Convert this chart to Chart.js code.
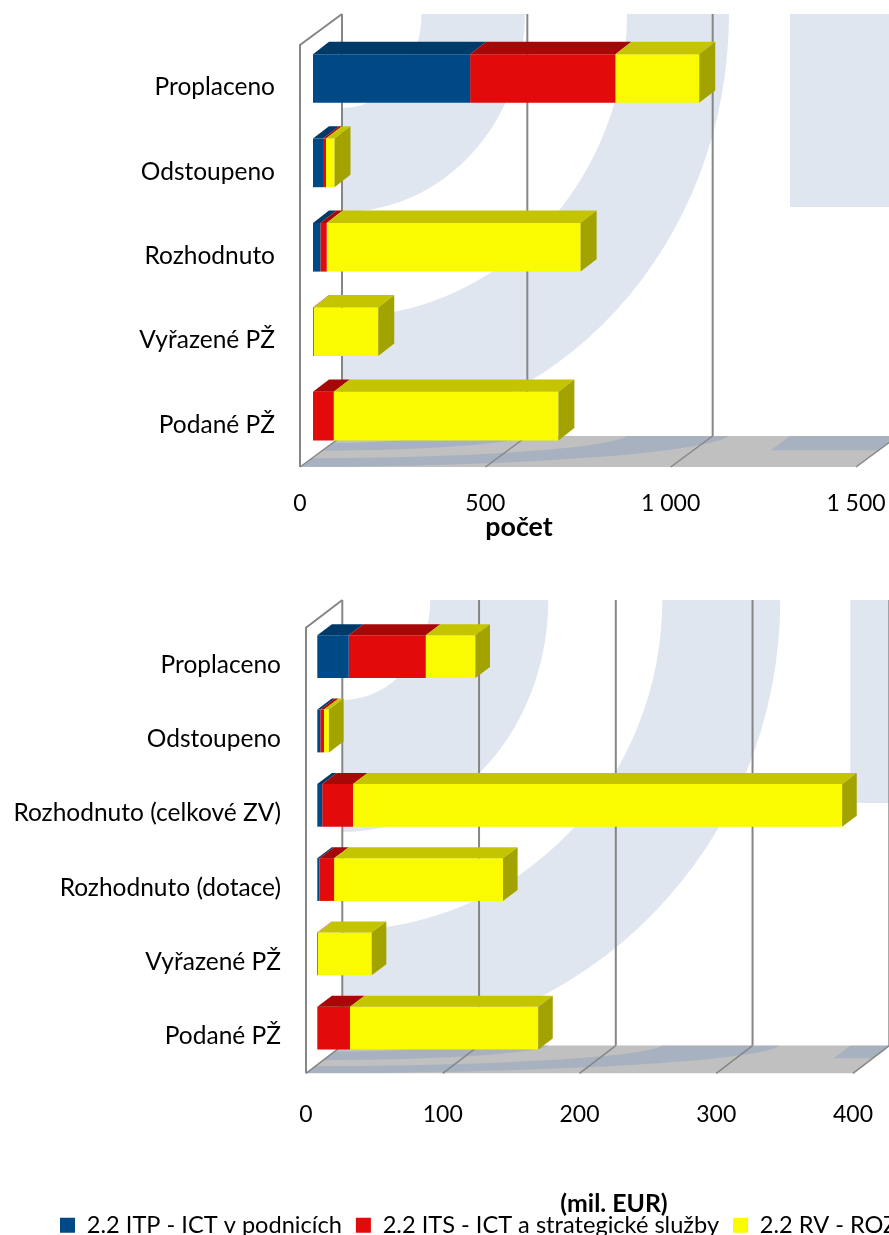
<!DOCTYPE html>
<html>
<head>
<meta charset="utf-8">
<title>Graf</title>
<script src="https://cdn.jsdelivr.net/npm/chart.js@4"></script>
<style>
  html, body { margin:0; padding:0; width:889px; height:1235px; overflow:hidden; background:#fff; }
  canvas { position:absolute; left:0; }
  #chartCount { top:0; }
  #chartEur { top:580px; }
</style>
</head>
<body>
<canvas id="chartCount" width="1300" height="560"></canvas>
<canvas id="chartEur" width="1300" height="667"></canvas>
<script>
const seriesNames = ['2.2 ITP - ICT v podnicích', '2.2 ITS - ICT a strategické služby', '2.2 RV - ROZVOJ'];
const frontColors = ['#004987', '#e20a0a', '#fafa00'];
const topColors = ['#003a68', '#a60808', '#c4c400'];
const sideColor = '#a3a300';

const countLabels = ['Proplaceno', 'Odstoupeno', 'Rozhodnuto', 'Vyřazené PŽ', 'Podané PŽ'];
const countItp = [424, 27, 20, 0, 0];
const countIts = [392, 8, 17, 2, 56];
const countRv = [226, 23, 685, 174, 606];

const eurLabels = ['Proplaceno', 'Odstoupeno', 'Rozhodnuto (celkové ZV)', 'Rozhodnuto (dotace)', 'Vyřazené PŽ', 'Podané PŽ'];
const eurItp = [23, 2.2, 3.6, 1.6, 0, 0];
const eurIts = [56.3, 2.7, 22.5, 10.7, 0.5, 23.9];
const eurRv = [36.3, 3.6, 357.7, 123.5, 39.3, 137.6];

const labelFont = { family:'Lato', size:24.5 };
const numberFont = { family:'Lato', size:23 };
const legendFont = { family:'Lato', size:23.6 };
const gridColor = '#868686';

// quarter rings + block of the picture that fills the back wall and floor
function wallPicture(ctx, look, w, h, color) {
  ctx.save();
  ctx.beginPath();
  ctx.rect(0, 0, w, h);
  ctx.clip();
  ctx.fillStyle = color;
  look.rings.forEach(r => {
    ctx.beginPath();
    ctx.moveTo(r[2], 0);
    ctx.ellipse(0, 0, r[2], r[3], 0, 0, Math.PI/2);
    ctx.lineTo(0, r[1]);
    ctx.ellipse(0, 0, r[0], r[1], 0, Math.PI/2, 0, true);
    ctx.closePath();
    ctx.fill();
  });
  ctx.fillRect(look.block[0], 0, w, look.block[1]);
  ctx.restore();
}

function box3d(look) {
  return {
    id: 'box3d',
    afterLayout(chart) {
      // legend starts at 60px, the long category labels need the space left of it
      if (look.legendLeft) chart.legend.left = look.legendLeft;
    },
    beforeDatasetsDraw(chart) {
      const ctx = chart.ctx, x = chart.scales.x, a = chart.chartArea;
      const ox = a.left + look.wall[0], oy = a.top + look.wall[1];
      const h = a.bottom - a.top, w = x.getPixelForValue(x.max) - a.left;

      ctx.save();
      ctx.translate(ox, oy);
      wallPicture(ctx, look, w, h, '#e0e6f0');
      ctx.restore();

      // floor
      ctx.save();
      ctx.fillStyle = '#c0c0c0';
      ctx.beginPath();
      ctx.moveTo(a.left, a.bottom);
      ctx.lineTo(a.left + w, a.bottom);
      ctx.lineTo(ox + w, oy + h);
      ctx.lineTo(ox, oy + h);
      ctx.closePath();
      ctx.fill();
      ctx.transform(1, 0, -look.wall[0]/h, -look.wall[1]/h, ox, oy + h);
      wallPicture(ctx, look, w, h, '#a7b1c0');
      ctx.restore();

      // grid: back wall lines and floor lines from the x ticks
      ctx.save();
      ctx.strokeStyle = gridColor;
      x.ticks.forEach(t => {
        const px = x.getPixelForValue(t.value);
        ctx.lineWidth = 2;
        ctx.beginPath();
        ctx.moveTo(px + look.wall[0], oy);
        ctx.lineTo(px + look.wall[0], oy + h);
        ctx.stroke();
        ctx.lineWidth = 1.5;
        ctx.beginPath();
        ctx.moveTo(px + look.wall[0], oy + h);
        ctx.lineTo(px, a.bottom);
        ctx.stroke();
      });
      ctx.lineWidth = 2;
      ctx.beginPath();
      ctx.moveTo(a.left, a.bottom);
      ctx.lineTo(a.left, a.top);
      ctx.lineTo(ox, oy);
      ctx.stroke();
      ctx.restore();
    },
    beforeDatasetDraw(chart) {
      chart.ctx.save();
      chart.ctx.translate(look.shift[0], look.shift[1]);
    },
    afterDatasetDraw(chart) {
      chart.ctx.restore();
    },
    afterDatasetsDraw(chart) {
      const ctx = chart.ctx, last = chart.data.datasets.length - 1;
      const dx = look.depth[0], dy = look.depth[1];
      ctx.save();
      ctx.translate(look.shift[0], look.shift[1]);
      chart.data.datasets.forEach((ds, i) => {
        chart.getDatasetMeta(i).data.forEach(bar => {
          const top = bar.y - bar.height/2;
          if (bar.x - bar.base > 0) {
            ctx.fillStyle = topColors[i];
            ctx.beginPath();
            ctx.moveTo(bar.base, top);
            ctx.lineTo(bar.x, top);
            ctx.lineTo(bar.x + dx, top + dy);
            ctx.lineTo(bar.base + dx, top + dy);
            ctx.closePath();
            ctx.fill();
          }
          if (i === last) {
            ctx.fillStyle = sideColor;
            ctx.beginPath();
            ctx.moveTo(bar.x, top);
            ctx.lineTo(bar.x + dx, top + dy);
            ctx.lineTo(bar.x + dx, top + dy + bar.height);
            ctx.lineTo(bar.x, top + bar.height);
            ctx.closePath();
            ctx.fill();
          }
        });
      });
      ctx.restore();
    },
    // the unit caption does not sit in the middle of the axis, so no scale title here
    afterDraw(chart) {
      const ctx = chart.ctx;
      ctx.save();
      ctx.fillStyle = '#000';
      ctx.font = 'bold ' + look.caption.size + 'px Lato';
      ctx.textAlign = 'center';
      ctx.textBaseline = 'middle';
      ctx.fillText(look.caption.text, look.caption.x, look.caption.y);
      ctx.restore();
    }
  };
}

function makeChart(id, labels, series, o) {
  return new Chart(document.getElementById(id), {
    type: 'bar',
    data: {
      labels: labels,
      datasets: series.map((vals, i) => ({
        label: seriesNames[i],
        data: vals,
        backgroundColor: frontColors[i],
        borderWidth: 0,
        categoryPercentage: 1,
        barPercentage: 0.576,
        clip: false
      }))
    },
    options: {
      indexAxis: 'y',
      responsive: false,
      animation: false,
      layout: { padding: { top:o.top, left:0, right:0, bottom:0 } },
      plugins: {
        tooltip: { enabled:false },
        legend: {
          display: o.legend,
          position: 'bottom',
          align: 'start',
          labels: { font:legendFont, color:'#000', boxWidth:15, boxHeight:15, padding:14 }
        }
      },
      scales: {
        x: {
          stacked: true,
          min: 0,
          max: o.max,
          grid: { display:false, drawTicks:false },
          border: { display:false },
          ticks: {
            stepSize: o.step,
            padding: o.tickPad,
            color: '#000',
            font: numberFont,
            maxRotation: 0,
            autoSkip: false,
            callback: v => String(v).replace(/\B(?=(\d{3})+$)/g, ' ')
          },
          afterFit(s) { s.height = o.axisH; }
        },
        y: {
          stacked: true,
          grid: { display:false, drawTicks:false },
          border: { display:false },
          ticks: { color:'#000', font:labelFont, padding:25, autoSkip:false },
          afterFit(s) { s.width = o.labelW; }
        },
        gutter: {
          axis: 'y',
          position: 'right',
          grid: { display:false, drawTicks:false },
          border: { display:false },
          ticks: { display:false },
          afterFit(s) { s.width = o.gutter; }
        }
      }
    },
    plugins: [box3d(o.look)]
  });
}

makeChart('chartCount', countLabels, [countItp, countIts, countRv], {
  top: 45, labelW: 300, gutter: 1300 - 856,
  max: 1500, step: 500, tickPad: 23,
  axisH: 93, legend: false,
  look: {
    wall: [42, -31], shift: [13, -8.7], depth: [16, -12.4],
    rings: [[79.5, 94, 183, 198], [285, 303, 387, 420]], block: [448, 193],
    caption: { text:'počet', size:26.8, x:519, y:527 }
  }
});

makeChart('chartEur', eurLabels, [eurItp, eurIts, eurRv], {
  top: 47.7, labelW: 306, gutter: 1300 - 853,
  max: 400, step: 100, tickPad: 27,
  axisH: 126.1, legend: true,
  look: {
    wall: [36.3, -27.7], shift: [11.3, -8.1], depth: [14.6, -11],
    rings: [[88, 100, 206, 232], [320, 330, 438, 445]], block: [508, 203],
    caption: { text:'(mil. EUR)', size:24.8, x:614, y:624 },
    legendLeft: 46
  }
});
</script>
</body>
</html>
